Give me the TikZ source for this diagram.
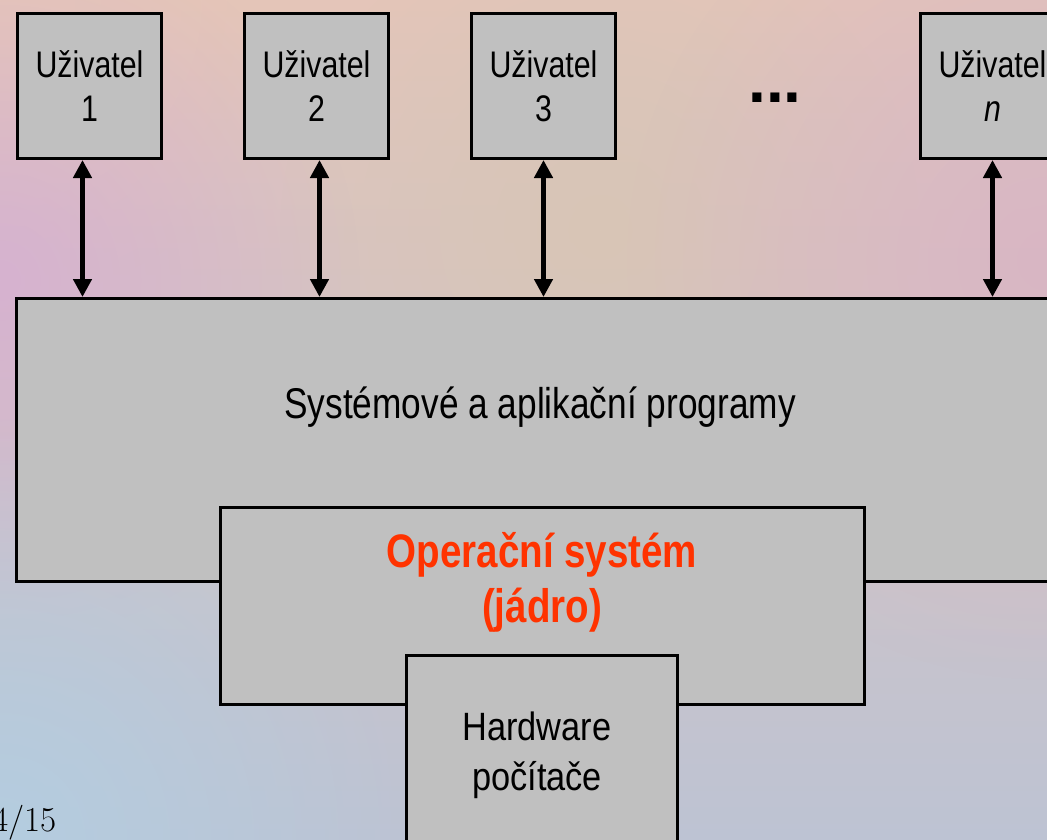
\documentclass[tikz,border=0pt]{standalone}
\usepackage{fontspec}
% narrow sans for the diagram labels
\newfontfamily\hvn[FakeStretch=0.82]{Liberation Sans}
\newfontfamily\hvm[FakeStretch=0.87]{Liberation Sans}
\newfontfamily\hv{Liberation Sans}
\usetikzlibrary{arrows.meta,fadings}
\definecolor{boxgray}{RGB}{192,192,192}
\definecolor{osred}{RGB}{255,51,0}
\definecolor{bgtop}{RGB}{228,197,185}
\definecolor{bgbottom}{RGB}{189,195,211}
\definecolor{bgmauve}{RGB}{214,178,208}
\definecolor{bgblue}{RGB}{180,205,224}
\definecolor{bgpink}{RGB}{217,182,196}
\definecolor{bgbeige}{RGB}{216,198,182}
\definecolor{bgpeach}{RGB}{232,200,182}
\tikzfading[name=softspot, inner color=transparent!0, outer color=transparent!100]
\begin{document}
\begin{tikzpicture}[x=1pt, y=-1pt,
  block/.style={draw=black, line width=3pt, fill=boxgray, inner sep=0pt, anchor=north west},
  userbox/.style={block, minimum width=144pt, minimum height=145pt, align=center,
    font=\hvn\fontsize{37}{44}\selectfont},
  label/.style={align=center, inner sep=0pt},
  link/.style={line width=5.5pt, {Triangle[length=18pt,width=18pt]}-{Triangle[length=18pt,width=18pt]}},
  spot/.style={path fading=softspot}
]
\useasboundingbox (0,0) rectangle (1047,839);
\clip (0,0) rectangle (1047,839);

% soft background
\shade[top color=bgtop, bottom color=bgbottom] (0,0) rectangle (1047,839);
\fill[bgpeach, spot] (0,0) circle (300);
\fill[bgbeige, spot] (600,230) circle (320);
\fill[bgpink, spot] (1047,260) circle (420);
\fill[bgmauve, spot] (0,280) circle (360);
\fill[bgblue, spot] (0,839) circle (420);

% users
\node[userbox] (u1) at (16,12) {Uživatel\\1};
\node[userbox] (u2) at (243,12) {Uživatel\\2};
\node[userbox] (u3) at (470,12) {Uživatel\\3};
\node[userbox] (un) at (919,12) {Uživatel\\\textit{n}};
\node[label, anchor=base, font=\hv\bfseries\fontsize{64}{64}\selectfont] (dots) at (775,102) {...};

% layers
\node[block, minimum width=1060pt, minimum height=283pt] (sys) at (15,297) {};
\node[label, font=\hvn\fontsize{43}{50}\selectfont, anchor=base] (systxt) at (540,418)
  {Systémové a aplikační programy};
\node[block, minimum width=644pt, minimum height=197pt] (os) at (219,506) {};
\node[label, font=\hvn\bfseries\fontsize{47}{55}\selectfont, text=osred] (ostxt) at (542,582)
  {Operační systém\\(jádro)};
\node[block, minimum width=271pt, minimum height=230pt] (hw) at (405,654) {};
\node[label, font=\hvm\fontsize{39.5}{50}\selectfont] (hwtxt) at (537,755)
  {Hardware\\počítače};

% user <-> programs
\draw[link] ([xshift=-7pt]u1.south) -- ([xshift=-7pt]u1.south |- sys.north);
\draw[link] ([xshift=3pt]u2.south) -- ([xshift=3pt]u2.south |- sys.north);
\draw[link] (u3.south) -- (u3.south |- sys.north);
\draw[link] (un.south) -- (un.south |- sys.north);

% slide number
\node[anchor=base east, inner sep=0pt, font=\fontsize{35}{35}\selectfont] (pg) at (57,831) {4/15};
\end{tikzpicture}
\end{document}
